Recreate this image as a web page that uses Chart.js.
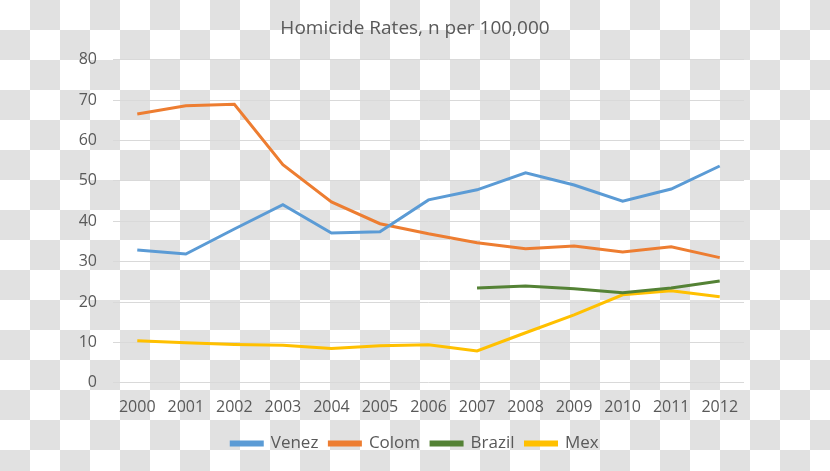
<!DOCTYPE html>
<html>
<head>
<meta charset="utf-8">
<script src="https://cdn.jsdelivr.net/npm/chart.js@4"></script>
<style>
  html, body { margin: 0; padding: 0; }
  body {
    width: 830px; height: 471px; overflow: hidden;
    background: repeating-conic-gradient(#e1e1e1 0 25%, #ffffff 0 50%) 0 0 / 60px 60px;
  }
  #wrap { position: relative; width: 830px; height: 471px; }
</style>
</head>
<body>
<div id="wrap"><canvas id="homicideChart"></canvas></div>
<script>
// years on the x axis
const years = ['2000','2001','2002','2003','2004','2005','2006','2007','2008','2009','2010','2011','2012'];

// homicide rates per 100,000
const venez  = [32.9, 31.9, 38.1, 44.1, 37.1, 37.4, 45.3, 47.8, 52.0, 49.0, 45.0, 48.0, 53.7];
const colom  = [66.6, 68.6, 69.0, 54.0, 44.8, 39.4, 36.9, 34.7, 33.2, 33.9, 32.4, 33.7, 31.0];
const brazil = [null, null, null, null, null, null, null, 23.5, 24.0, 23.3, 22.3, 23.5, 25.2];
const mex    = [10.4, 9.9, 9.5, 9.3, 8.5, 9.2, 9.4, 7.9, 12.4, 16.8, 21.8, 22.8, 21.3];

const txt = '#595959';
const font = "'Open Sans', 'Liberation Sans', sans-serif";

function line(label, data, color) {
  return {
    label: label,
    data: data,
    borderColor: color,
    backgroundColor: color,
    borderWidth: 3,
    pointRadius: 0,
    tension: 0,
    fill: false
  };
}

const ctx = document.getElementById('homicideChart').getContext('2d');
new Chart(ctx, {
  type: 'line',
  data: {
    labels: years,
    datasets: [
      line('Venez', venez, '#5b9bd5'),
      line('Colom', colom, '#ed7d31'),
      line('Brazil', brazil, '#548235'),
      line('Mex', mex, '#ffc000')
    ]
  },
  options: {
    responsive: true,
    maintainAspectRatio: false,
    animation: false,
    // left/right kept at 0 so title and legend centre on the canvas
    layout: { padding: { left: 0, right: 0, top: 6, bottom: 9 } },
    scales: {
      x: {
        offset: true,
        grid: { display: false },
        border: { display: false },
        ticks: { color: txt, font: { family: font, size: 16 }, padding: 7, maxRotation: 0 }
      },
      y: {
        min: 0,
        max: 80,
        grid: { color: '#d9d9d9', drawTicks: false },
        border: { display: false },
        ticks: { stepSize: 10, color: txt, font: { family: font, size: 16 }, padding: 16 },
        afterFit: (scale) => { scale.width = 113; }
      },
      // empty spacer on the right side
      yRight: {
        position: 'right',
        display: true,
        grid: { display: false },
        border: { display: false },
        ticks: { display: false },
        afterFit: (scale) => { scale.width = 86; }
      }
    },
    plugins: {
      title: {
        display: true,
        text: 'Homicide Rates, n per 100,000',
        color: txt,
        font: { family: font, size: 19, weight: 'normal' },
        padding: { top: 11, bottom: 20 }
      },
      legend: {
        display: true,
        position: 'bottom',
        labels: {
          color: txt,
          font: { family: font, size: 17 },
          boxWidth: 31,
          boxHeight: 3,
          padding: 11
        }
      },
      tooltip: { enabled: false }
    }
  }
});
</script>
</body>
</html>
